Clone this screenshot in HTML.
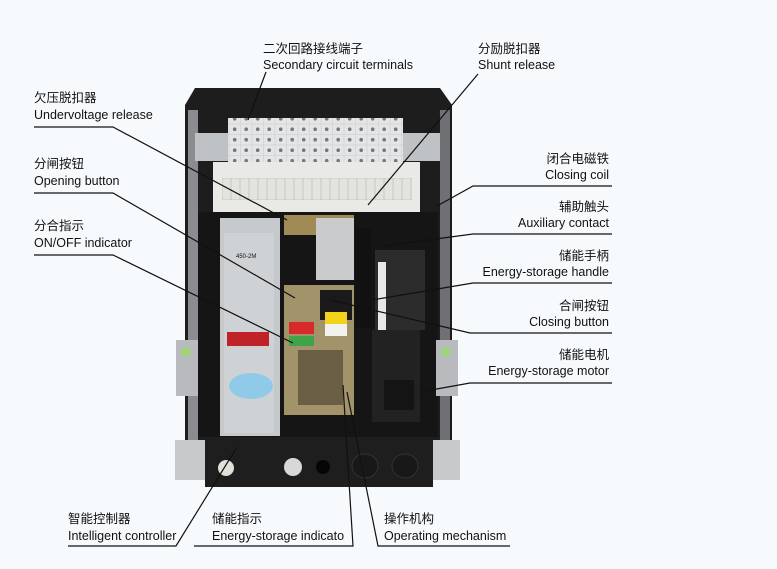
<!DOCTYPE html>
<html><head><meta charset="utf-8"><style>
html,body{margin:0;padding:0;background:#f7fafd;}
svg{display:block}
text{font-family:"Liberation Sans","Noto Sans CJK SC",sans-serif;fill:#111;font-size:12.5px}
</style></head><body>
<svg width="777" height="569" viewBox="0 0 777 569" xmlns="http://www.w3.org/2000/svg">
<defs>
<pattern id="dp" x="229" y="124" width="11.5" height="10.5" patternUnits="userSpaceOnUse">
<rect width="11.5" height="10.5" fill="#e3e5e6" stroke="#c9cbcc" stroke-width="0.5"/>
<circle cx="5.7" cy="5.2" r="1.8" fill="#777"/>
</pattern>
<pattern id="cp" x="222" y="178" width="9" height="22" patternUnits="userSpaceOnUse">
<rect width="9" height="22" fill="#e4e4df" stroke="#bdbdb6" stroke-width="0.7"/>
</pattern>
</defs>
<rect width="777" height="569" fill="#f7fafd"/>
<!-- breaker body -->
<polygon points="195,88 440,88 452,105 452,440 185,440 185,105" fill="#1d1d1d"/>
<rect x="188" y="110" width="10" height="330" fill="#8a8c8f"/>
<rect x="440" y="110" width="10" height="330" fill="#6e7073"/>
<rect x="195" y="133" width="245" height="28" fill="#bfc2c4"/>
<rect x="228" y="118" width="175" height="50" fill="url(#dp)"/>
<rect x="213" y="162" width="207" height="50" fill="#e9e9e6"/>
<rect x="222" y="178" width="190" height="22" fill="url(#cp)"/>
<rect x="198" y="212" width="240" height="225" fill="#151515"/>
<rect x="284" y="215" width="70" height="20" fill="#a08a55"/>
<rect x="316" y="218" width="38" height="62" fill="#c9cbcc"/>
<rect x="355" y="228" width="16" height="100" fill="#111"/>
<rect x="375" y="250" width="50" height="80" fill="#2c2c2c"/>
<rect x="378" y="262" width="8" height="110" fill="#e8e8e6"/>
<!-- controller -->
<rect x="220" y="218" width="60" height="218" fill="#c5c9cc"/>
<rect x="224" y="233" width="50" height="200" fill="#cfd2d5"/>
<rect x="227" y="332" width="42" height="14" fill="#c0222a"/>
<ellipse cx="251" cy="386" rx="22" ry="13" fill="#8fcbe8"/>
<text x="236" y="258" style="font-size:6px">450-2M</text>
<!-- mechanism -->
<rect x="284" y="285" width="70" height="130" fill="#a2936a"/>
<rect x="320" y="290" width="32" height="30" fill="#1a1a1a"/>
<rect x="289" y="322" width="25" height="12" fill="#d82a2a"/>
<rect x="289" y="336" width="25" height="10" fill="#3fa34a"/>
<rect x="325" y="312" width="22" height="12" fill="#f3d21b"/>
<rect x="325" y="324" width="22" height="12" fill="#f2f2ee"/>
<rect x="298" y="350" width="45" height="55" fill="#6a5f45"/>
<rect x="372" y="330" width="48" height="92" fill="#222"/>
<rect x="384" y="380" width="30" height="30" fill="#141414"/>
<!-- side brackets -->
<rect x="176" y="340" width="22" height="56" fill="#b8babd"/>
<circle cx="186" cy="352" r="5" fill="#9fd27a"/>
<rect x="436" y="340" width="22" height="56" fill="#b8babd"/>
<circle cx="446" cy="352" r="5" fill="#9fd27a"/>
<rect x="175" y="440" width="30" height="40" fill="#c8c9cb"/>
<rect x="430" y="440" width="30" height="40" fill="#c8c9cb"/>
<!-- bottom bar -->
<rect x="205" y="437" width="228" height="50" fill="#1e1e1e"/>
<circle cx="226" cy="468" r="8" fill="#e0e0d8"/>
<circle cx="293" cy="467" r="9" fill="#d8d8d8"/>
<circle cx="323" cy="467" r="7" fill="#050505"/>
<ellipse cx="365" cy="466" rx="13" ry="12" fill="#181818" stroke="#333"/>
<ellipse cx="405" cy="466" rx="13" ry="12" fill="#181818" stroke="#333"/>
<!-- leader lines -->
<g stroke="#111" stroke-width="1.2" fill="none">
<polyline points="266,72 248,120"/>
<polyline points="478,74 368,205"/>
<polyline points="34,127 113,127 287,220"/>
<polyline points="34,193 113,193 295,298"/>
<polyline points="34,255 113,255 293,343"/>
<polyline points="612,186 473,186 437,206"/>
<polyline points="612,234 473,234 383,246"/>
<polyline points="612,283 473,283 372,300"/>
<polyline points="612,333 470,333 330,300"/>
<polyline points="612,383 470,383 420,392"/>
<polyline points="68,546 176,546 237,447"/>
<polyline points="194,546 353,546 343,385"/>
<polyline points="510,546 378,546 347,392"/>
</g>
<!-- labels -->
<text x="263" y="53">二次回路接线端子</text>
<text x="263" y="69">Secondary circuit terminals</text>
<text x="478" y="53">分励脱扣器</text>
<text x="478" y="69">Shunt release</text>
<text x="34" y="102">欠压脱扣器</text>
<text x="34" y="119">Undervoltage release</text>
<text x="34" y="168">分闸按钮</text>
<text x="34" y="185">Opening button</text>
<text x="34" y="230">分合指示</text>
<text x="34" y="247">ON/OFF indicator</text>
<g text-anchor="end">
<text x="609" y="163">闭合电磁铁</text>
<text x="609" y="179">Closing coil</text>
<text x="609" y="211">辅助触头</text>
<text x="609" y="227">Auxiliary contact</text>
<text x="609" y="260">储能手柄</text>
<text x="609" y="276">Energy-storage handle</text>
<text x="609" y="310">合闸按钮</text>
<text x="609" y="326">Closing button</text>
<text x="609" y="359">储能电机</text>
<text x="609" y="375">Energy-storage motor</text>
</g>
<text x="68" y="523">智能控制器</text>
<text x="68" y="540">Intelligent controller</text>
<text x="212" y="523">储能指示</text>
<text x="212" y="540">Energy-storage indicato</text>
<text x="384" y="523">操作机构</text>
<text x="384" y="540">Operating mechanism</text>
</svg>
</body></html>
